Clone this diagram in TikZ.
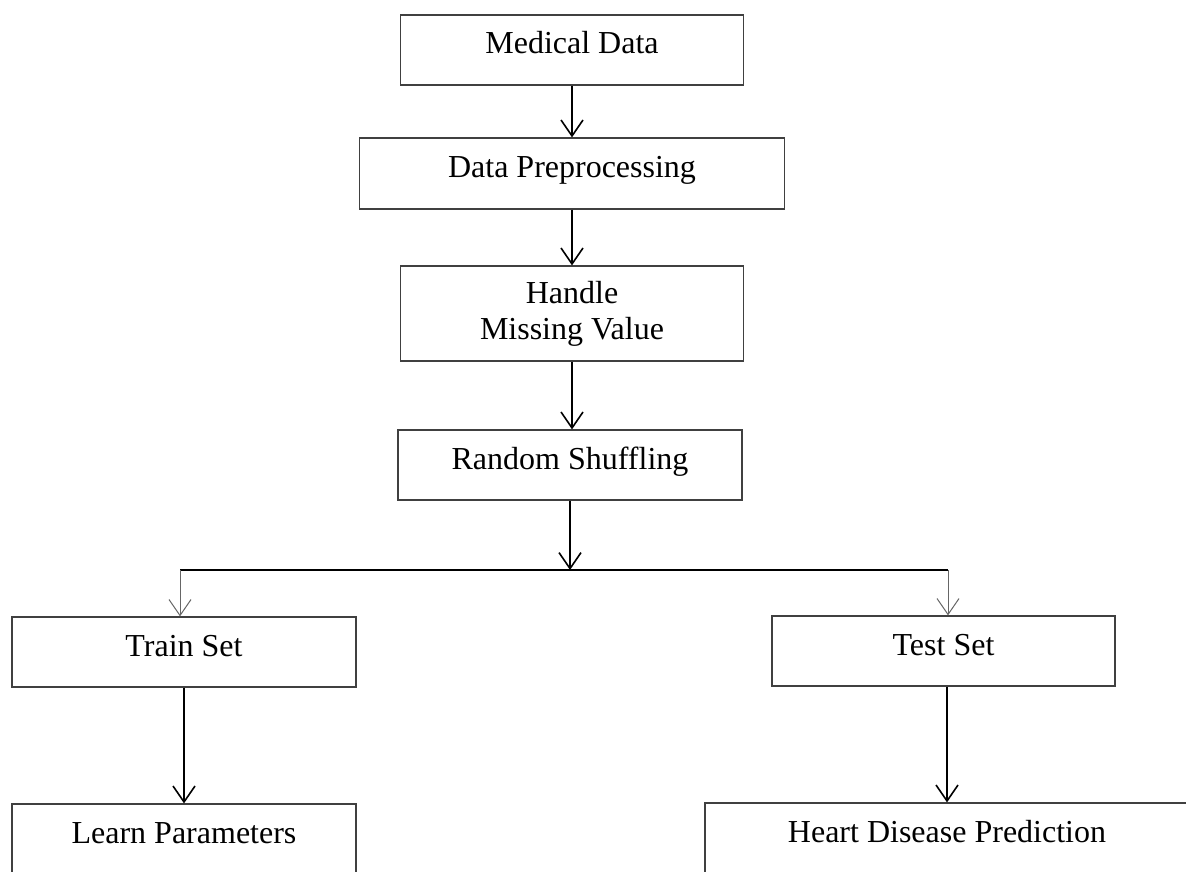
\documentclass[tikz,border=0pt]{standalone}
\usepackage{fontspec}
\setmainfont{Liberation Serif}
\usetikzlibrary{arrows.meta, positioning}
\tikzset{
    box/.style={rectangle, draw=black!75, line width=0.6pt, text centered, minimum height=35pt, inner sep=0pt, font=\fontsize{16}{18}\selectfont, text height=0.7em, text depth=0.3em},
    arrow/.style={line width=0.8pt, -{Straight Barb[length=8pt, width=11pt]}},
    splitarrow/.style={line width=0.5pt, draw=black!60, -{Straight Barb[length=8pt, width=11pt]}}
}

\begin{document}
\begin{tikzpicture}[x=0.5pt, y=-0.5pt]
    \useasboundingbox (0,0) rectangle (1186,871);
    \clip (0,0) rectangle (1186,871);
    % Nodes
    \node (med) [box, minimum width=171.5pt] at (572,50) {Medical Data};
    \node (prep) [box, minimum width=212.5pt, minimum height=35.5pt] at (572,173.5) {Data Preprocessing};
    \node (miss) [box, minimum width=171.5pt, minimum height=47.5pt, align=center, text height={}, text depth={}] at (572,313.5) {Handle\\Missing Value};
    \node (shuf) [box, minimum width=172pt] at (570,465) {Random Shuffling};
    \node (train) [box, minimum width=172pt] at (184,652) {Train Set};
    \node (test) [box, minimum width=171.5pt] at (943.5,651) {Test Set};
    \node (learn) [box, minimum width=172pt] at (184,839) {Learn Parameters};
    \node (heart) [box, minimum width=242pt] at (947,838) {Heart Disease Prediction};
    % Split point
    \coordinate (split) at (570,570);
    \coordinate (splitL) at (180,570);
    \coordinate (splitR) at (948,570);
    % Arrows
    \draw [arrow] (med) -- (prep);
    \draw [arrow] (prep) -- (miss);
    \draw [arrow] (miss) -- (miss |- shuf.north);
    \draw [arrow] (shuf) -- (split);
    \draw [line width=0.6pt] (splitL) -- (splitR);
    \draw [splitarrow] (splitL) -- (splitL |- train.north);
    \draw [splitarrow] (splitR) -- (splitR |- test.north);
    \draw [arrow] (train) -- (learn);
    \draw [arrow] (heart.north |- test.south) -- (heart.north);
\end{tikzpicture}
\end{document}
